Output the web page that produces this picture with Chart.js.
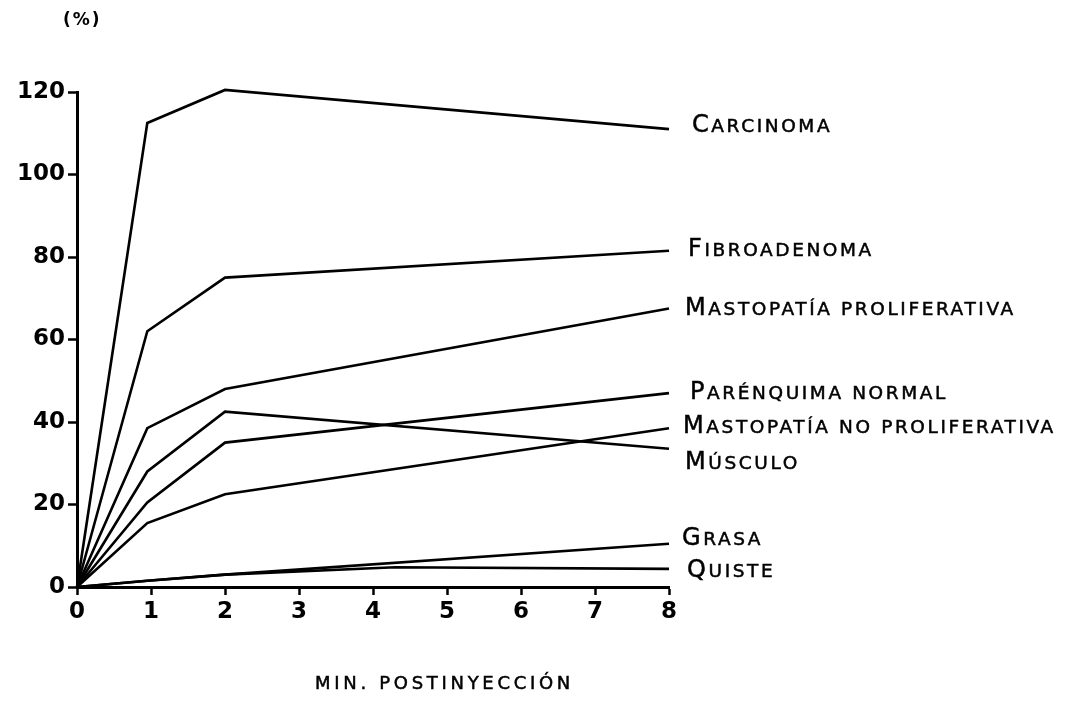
<!DOCTYPE html>
<html>
<head>
<meta charset="utf-8">
<script src="https://cdn.jsdelivr.net/npm/chart.js@4"></script>
<style>
html,body{margin:0;padding:0;background:#fff;}
#wrap{width:1085px;height:721px;position:relative;}
</style>
</head>
<body>
<div id="wrap"><canvas id="c" width="1085" height="721"></canvas></div>
<script>
// ---- data ----
const minutes = [0, 0.95, 2, 8];
const quisteMinutes = [0, 0.95, 2, 4.3, 8];
const xTicks = [0, 1, 2, 3, 4, 5, 6, 7, 8];
const yTicks = [0, 20, 40, 60, 80, 100, 120];

const seriesNames = ["Carcinoma", "Fibroadenoma", "Mastopatía proliferativa", "Parénquima normal",
  "Mastopatía no proliferativa", "Músculo", "Grasa", "Quiste"];
const carcinoma = [0, 112.5, 120.5, 111];
const fibroadenoma = [0, 62, 75, 81.5];
const mastopatiaProliferativa = [0, 38.5, 48, 67.5];
const parenquimaNormal = [0, 20.5, 35, 47];
const mastopatiaNoProliferativa = [0, 15.5, 22.5, 38.5];
const musculo = [0, 28, 42.5, 33.5];
const grasa = [0, 1.5, 3, 10.5];
const quiste = [0, 1.5, 3, 4.8, 4.4];

const yUnit = "(%)";
const xTitle = "MIN. POSTINYECCIÓN";

// label offsets from each line's last point (pixels, to the capital's vertical centre)
const labelShift = [[23,-6],[19,-4],[16,-2.5],[21,-3],[14,-4],[16,11],[13,-7],[18,-1]];

const values = [carcinoma, fibroadenoma, mastopatiaProliferativa, parenquimaNormal,
  mastopatiaNoProliferativa, musculo, grasa, quiste];
const datasets = values.map((v, i) => {
  const xs = (i === 7) ? quisteMinutes : minutes;
  return {
    label: seriesNames[i],
    data: v.map((y, j) => ({x: xs[j], y: y})),
    borderColor: "#000",
    borderWidth: 2.6,
    pointRadius: 0,
    tension: 0,
    fill: false,
    clip: false
  };
});

const BIG = 24, SMALL = 18.5, SPACING = 2.6;
function drawSmallCaps(ctx, text, x, yCenter) {
  const baseline = yCenter + BIG * 0.365;
  try { ctx.letterSpacing = SPACING + "px"; } catch(e) {}
  ctx.textBaseline = "alphabetic";
  ctx.font = BIG + "px 'DejaVu Sans'";
  const first = text.charAt(0).toUpperCase();
  ctx.fillText(first, x, baseline);
  ctx.strokeText(first, x, baseline);
  let cx = x + ctx.measureText(first).width;
  ctx.font = SMALL + "px 'DejaVu Sans'";
  const rest = text.slice(1).toUpperCase();
  ctx.fillText(rest, cx, baseline);
  ctx.strokeText(rest, cx, baseline);
}

const labelPlugin = {
  id: "labels",
  afterDraw(chart) {
    const ctx = chart.ctx;
    ctx.save();
    ctx.fillStyle = "#000";
    ctx.strokeStyle = "#000";
    ctx.lineWidth = 0.5;
    ctx.textAlign = "left";
    chart.data.datasets.forEach((ds, i) => {
      const meta = chart.getDatasetMeta(i);
      const p = meta.data[meta.data.length - 1];
      drawSmallCaps(ctx, ds.label, p.x + labelShift[i][0], p.y + labelShift[i][1]);
    });
    ctx.textBaseline = "middle";
    ctx.font = "bold 17px 'DejaVu Sans'";
    try { ctx.letterSpacing = "2px"; } catch(e) {}
    ctx.fillText(yUnit, 63, 21);
    ctx.font = "18px 'DejaVu Sans'";
    try { ctx.letterSpacing = "3.7px"; } catch(e) {}
    ctx.fillText(xTitle, 315, 684);
    ctx.strokeText(xTitle, 315, 684);
    ctx.restore();
  }
};

new Chart(document.getElementById("c"), {
  type: "line",
  data: { datasets },
  options: {
    responsive: false,
    animation: false,
    events: [],
    layout: { padding: { left: 0, top: 92, right: 416, bottom: 94 } },
    plugins: { legend: { display: false }, tooltip: { enabled: false }, title: { display: false } },
    scales: {
      x: {
        type: "linear",
        min: 0, max: 8,
        afterFit(s) { s.height = 40; },
        afterBuildTicks(s) { s.ticks = xTicks.map(v => ({value: v})); },
        border: { display: true, color: "#000", width: 3 },
        grid: { drawOnChartArea: false, drawTicks: true, tickLength: 8, tickWidth: 2.5, color: "#000" },
        ticks: { color: "#000", font: { family: "DejaVu Sans", size: 23, weight: "bold" }, padding: 3, maxRotation: 0 }
      },
      y: {
        type: "linear",
        min: 0, max: 120,
        afterFit(s) { s.width = 77; },
        afterBuildTicks(s) { s.ticks = yTicks.map(v => ({value: v})); },
        border: { display: true, color: "#000", width: 3 },
        grid: { drawOnChartArea: false, drawTicks: true, tickLength: 9, tickWidth: 2.5, color: "#000" },
        ticks: { color: "#000", font: { family: "DejaVu Sans", size: 23, weight: "bold" }, padding: 3 }
      }
    }
  },
  plugins: [labelPlugin]
});
</script>
</body>
</html>
